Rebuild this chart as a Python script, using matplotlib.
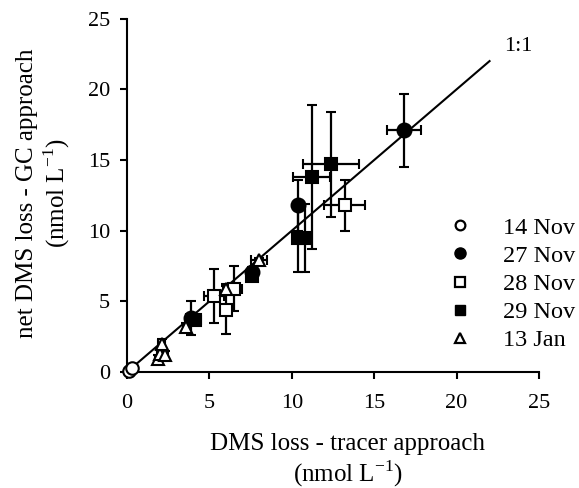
import matplotlib
matplotlib.use("Agg")
import matplotlib.pyplot as plt

plt.rcParams['font.family'] = ['Liberation Serif', 'DejaVu Serif']
plt.rcParams['mathtext.fontset'] = 'custom'
plt.rcParams['mathtext.rm'] = 'Liberation Serif'

# 14 Nov - open circles
nov14_x = [0.1, 0.3]
nov14_y = [0.1, 0.3]

# 27 Nov - filled circles
nov27_x = [3.9, 7.6, 10.4, 16.8]
nov27_y = [3.8, 7.1, 11.8, 17.1]
nov27_xerr = [0.3, 0.2, 0.2, 1.05]
nov27_yerr = [1.2, 0.3, 1.8, 2.6]

# 28 Nov - open squares
nov28_x = [5.3, 6.0, 6.5, 13.2]
nov28_y = [5.4, 4.4, 5.9, 11.8]
nov28_xerr = [0.6, 0.2, 0.5, 1.25]
nov28_yerr = [1.9, 1.7, 1.6, 1.8]

# 29 Nov - filled squares
nov29_x = [4.1, 7.6, 10.4, 10.8, 11.2, 12.4]
nov29_y = [3.7, 6.8, 9.5, 9.5, 13.8, 14.7]
nov29_xerr = [0.4, 0.2, 0.3, 0.3, 1.1, 1.7]
nov29_yerr = [0.3, 0.3, 2.4, 2.4, 5.1, 3.7]

# 13 Jan - open triangles
jan13_x = [1.9, 2.0, 2.3, 2.1, 3.6, 6.0, 8.0]
jan13_y = [0.9, 1.3, 1.2, 2.0, 3.2, 5.9, 7.9]
jan13_xerr = [0.2, 0.2, 0.2, 0.2, 0.2, 0.2, 0.5]
jan13_yerr = [0.3, 0.3, 0.3, 0.3, 0.3, 0.3, 0.2]

one_to_one = [0, 22]

fig = plt.figure(figsize=(5.79, 4.88), dpi=100)
ax = fig.add_axes([0.2193, 0.2377, 0.7116, 0.724])

ax.plot(one_to_one, one_to_one, color='black', lw=1.5, zorder=2)
ax.text(22.9, 23.0, '1:1', fontsize=16, ha='left', va='center')

eb = dict(ecolor='black', elinewidth=1.6, capsize=3.5, capthick=1.6, linestyle='none',
          markeredgecolor='black', markeredgewidth=1.5, zorder=3, clip_on=False)

ax.errorbar(nov14_x, nov14_y, fmt='o', ms=9, mfc='white', **eb)
ax.errorbar(nov27_x, nov27_y, xerr=nov27_xerr, yerr=nov27_yerr, fmt='o', ms=10, mfc='black', **eb)
ax.errorbar(nov28_x, nov28_y, xerr=nov28_xerr, yerr=nov28_yerr, fmt='s', ms=9, mfc='white', **eb)
ax.errorbar(nov29_x, nov29_y, xerr=nov29_xerr, yerr=nov29_yerr, fmt='s', ms=9, mfc='black', **eb)
ax.errorbar(jan13_x, jan13_y, xerr=jan13_xerr, yerr=jan13_yerr, fmt='^', ms=9, mfc='white', **eb)

# legend
handles = [
    plt.Line2D([], [], marker='o', ls='none', ms=7, mfc='white', mec='black', mew=1.6),
    plt.Line2D([], [], marker='o', ls='none', ms=8, mfc='black', mec='black'),
    plt.Line2D([], [], marker='s', ls='none', ms=7, mfc='white', mec='black', mew=1.6),
    plt.Line2D([], [], marker='s', ls='none', ms=7, mfc='black', mec='black'),
    plt.Line2D([], [], marker='^', ls='none', ms=7, mfc='white', mec='black', mew=1.6),
]
labels = ['14 Nov', '27 Nov', '28 Nov', '29 Nov', '13 Jan']
fig.legend(handles, labels, loc='center left', bbox_to_anchor=(0.774, 0.418), frameon=False,
           fontsize=17.5, handlelength=1.0, handletextpad=1.27, labelspacing=0.25,
           borderpad=0, borderaxespad=0)

ax.set_xlim(0, 25)
ax.set_ylim(0, 25)
ax.set_xticks([0, 5, 10, 15, 20, 25])
ax.set_yticks([0, 5, 10, 15, 20, 25])
ax.tick_params(direction='out', length=5, width=1.5, labelsize=16)
ax.tick_params(axis='x', pad=11)
ax.tick_params(axis='y', pad=7)
for s in ['top', 'right']:
    ax.spines[s].set_visible(False)
for s in ['left', 'bottom']:
    ax.spines[s].set_linewidth(1.5)

ax.set_xlabel('DMS loss - tracer approach\n(nmol L$^{-1}$)', fontsize=18, linespacing=1.15,
              ha='center', va='center')
ax.xaxis.set_label_coords(0.536, -0.252)
ax.set_ylabel('net DMS loss - GC approach\n(nmol L$^{-1}$)', fontsize=18, linespacing=1.15,
              ha='center', va='center')
ax.yaxis.set_label_coords(-0.2015, 0.507)

fig.savefig('out.png', dpi=100)
